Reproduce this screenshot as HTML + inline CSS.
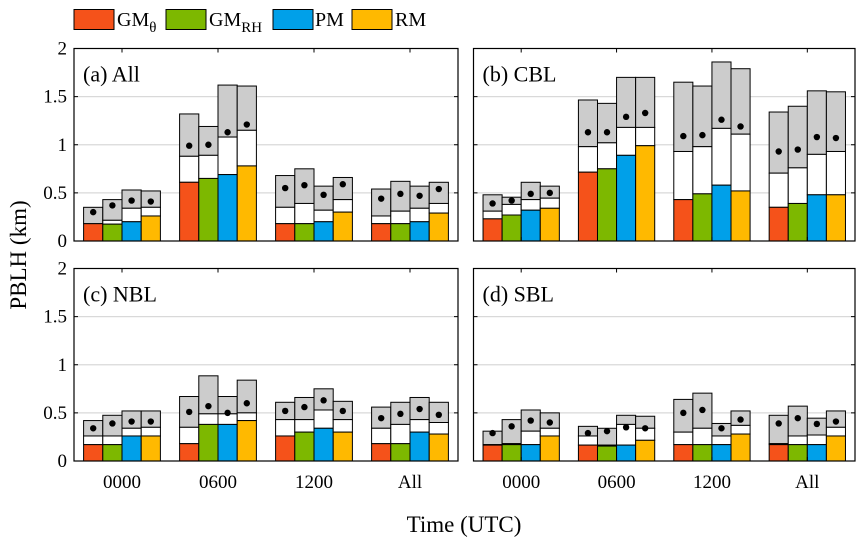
<!DOCTYPE html>
<html><head><meta charset="utf-8"><style>
html,body{margin:0;padding:0;background:#fff}
svg, svg text{font-family:"Liberation Serif","Times New Roman","DejaVu Serif",serif}
</style></head><body>
<svg id="chart" width="865" height="546" viewBox="0 0 865 546" xmlns="http://www.w3.org/2000/svg"></svg>
<script>
const categories = ["0000","0600","1200","All"];
const seriesNames = ["GMθ","GMRH","PM","RM"];
const seriesColors = ["#F5521A","#7DB800","#00A0E9","#FFB900"];
const yTicks = [0,0.5,1,1.5,2];
const yTickLabels = ["0","0.5","1","1.5","2"];
// per panel: [category][series] values
const aLow  = [[0.18,0.175,0.20,0.26],[0.61,0.65,0.69,0.78],[0.18,0.18,0.20,0.30],[0.18,0.18,0.20,0.29]];
const aMid  = [[0.18,0.215,0.34,0.35],[0.88,0.89,1.08,1.15],[0.35,0.39,0.32,0.43],[0.26,0.31,0.34,0.39]];
const aHigh = [[0.35,0.43,0.53,0.52],[1.32,1.19,1.62,1.61],[0.68,0.75,0.57,0.66],[0.54,0.62,0.57,0.61]];
const aDot  = [[0.30,0.37,0.42,0.41],[0.99,1.00,1.13,1.21],[0.55,0.58,0.48,0.59],[0.44,0.49,0.47,0.54]];
const bLow  = [[0.23,0.27,0.32,0.34],[0.715,0.75,0.89,0.99],[0.43,0.49,0.58,0.52],[0.35,0.39,0.48,0.48]];
const bMid  = [[0.31,0.38,0.43,0.445],[0.98,1.02,1.18,1.18],[0.93,0.98,1.17,1.11],[0.705,0.76,0.90,0.93]];
const bHigh = [[0.48,0.455,0.61,0.57],[1.465,1.43,1.70,1.70],[1.65,1.61,1.86,1.79],[1.34,1.40,1.56,1.55]];
const bDot  = [[0.39,0.42,0.49,0.50],[1.13,1.13,1.29,1.33],[1.09,1.10,1.26,1.19],[0.93,0.95,1.08,1.07]];
const cLow  = [[0.17,0.17,0.26,0.26],[0.18,0.38,0.38,0.42],[0.26,0.30,0.34,0.30],[0.18,0.18,0.30,0.28]];
const cMid  = [[0.26,0.26,0.34,0.35],[0.35,0.49,0.49,0.50],[0.43,0.43,0.53,0.43],[0.34,0.38,0.43,0.40]];
const cHigh = [[0.42,0.475,0.52,0.52],[0.67,0.885,0.67,0.84],[0.61,0.66,0.75,0.62],[0.56,0.61,0.66,0.61]];
const cDot  = [[0.34,0.39,0.41,0.41],[0.51,0.57,0.50,0.60],[0.52,0.56,0.63,0.52],[0.445,0.49,0.54,0.48]];
const dLow  = [[0.165,0.17,0.17,0.26],[0.165,0.155,0.165,0.215],[0.17,0.17,0.17,0.28],[0.17,0.17,0.17,0.26]];
const dMid  = [[0.17,0.18,0.31,0.34],[0.26,0.165,0.38,0.34],[0.30,0.34,0.26,0.37],[0.18,0.26,0.27,0.35]];
const dHigh = [[0.31,0.43,0.53,0.50],[0.36,0.34,0.475,0.465],[0.64,0.705,0.39,0.52],[0.475,0.57,0.445,0.52]];
const dDot  = [[0.29,0.36,0.42,0.40],[0.29,0.31,0.35,0.34],[0.50,0.53,0.34,0.43],[0.39,0.445,0.385,0.41]];

const panels = [
 {id:"a",label:"(a) All",x0:74,x1:458,yTop:48.5,yBot:241,low:aLow,mid:aMid,high:aHigh,dot:aDot,left:true},
 {id:"b",label:"(b) CBL",x0:473.5,x1:855,yTop:48.5,yBot:241,low:bLow,mid:bMid,high:bHigh,dot:bDot,left:false},
 {id:"c",label:"(c) NBL",x0:74,x1:458,yTop:268.5,yBot:461,low:cLow,mid:cMid,high:cHigh,dot:cDot,left:true,bottom:true},
 {id:"d",label:"(d) SBL",x0:473.5,x1:855,yTop:268.5,yBot:461,low:dLow,mid:dMid,high:dHigh,dot:dDot,left:false,bottom:true}
];
const NS="http://www.w3.org/2000/svg";
const svg=document.getElementById("chart");
function mk(tag,attrs,parent){const e=document.createElementNS(NS,tag);for(const k in attrs)e.setAttribute(k,attrs[k]);(parent||svg).appendChild(e);return e;}

panels.forEach(p=>{
  const g=mk("g",{});
  
  
  const ys=v=>p.yBot-(v/2)*(p.yBot-p.yTop);
  const step=(p.x1-p.x0)/categories.length;
  const xc=i=>p.x0+step*(i+0.5);
  const bw=step*0.2;
  yTicks.forEach((t,i)=>{
    if(t>0&&t<2){const gl=mk("line",{x1:p.x0,x2:p.x1,y1:ys(t),y2:ys(t),stroke:"#d9d9d9","stroke-width":1.2},g);
      
      }
  });
  categories.forEach((c,ci)=>{
    for(let s=0;s<4;s++){
      const x=xc(ci)-2*bw+s*bw;
      const lo=p.low[ci][s],mi=p.mid[ci][s],hi=p.high[ci][s];
      const r1=mk("rect",{x:x,y:ys(hi),width:bw,height:ys(mi)-ys(hi),fill:"#cccccc",stroke:"#000","stroke-width":1},g);
      
      
      const r2=mk("rect",{x:x,y:ys(mi),width:bw,height:ys(lo)-ys(mi),fill:"#fff",stroke:"#000","stroke-width":1},g);
      
      
      const r3=mk("rect",{x:x,y:ys(lo),width:bw,height:ys(0)-ys(lo),fill:seriesColors[s],stroke:"#000","stroke-width":1},g);
      
      
      const d=mk("circle",{cx:x+bw/2,cy:ys(p.dot[ci][s]),r:3.2,fill:"#000"},g);
      
      
    }
    mk("line",{x1:xc(ci),x2:xc(ci),y1:p.yTop,y2:p.yTop+4,stroke:"#000","stroke-width":1},g);
    mk("line",{x1:xc(ci),x2:xc(ci),y1:p.yBot,y2:p.yBot-4,stroke:"#000","stroke-width":1},g);
    if(p.bottom){const t=mk("text",{x:xc(ci),y:488,"text-anchor":"middle","font-size":19},g);t.textContent=c;
      
      }
  });
  yTicks.forEach((t,i)=>{
    mk("line",{x1:p.x0,x2:p.x0+4,y1:ys(t),y2:ys(t),stroke:"#000"},g);
    mk("line",{x1:p.x1,x2:p.x1-4,y1:ys(t),y2:ys(t),stroke:"#000"},g);
    if(p.left){const tl=mk("text",{x:67,y:ys(t)+6,"text-anchor":"end","font-size":19},g);tl.textContent=yTickLabels[i];
      
      }
  });
  const fr=mk("rect",{x:p.x0,y:p.yTop,width:p.x1-p.x0,height:p.yBot-p.yTop,fill:"none",stroke:"#000","stroke-width":1.2},g);
  
  
  const lb=mk("text",{x:p.x0+9,y:p.yTop+33,"font-size":22},g);lb.textContent=p.label;
  
  
});

// legend
const legX=[74,166,273,352];
const leg=mk("g",{});


seriesNames.forEach((n,i)=>{
  const r=mk("rect",{x:legX[i],y:9.5,width:40,height:20,fill:seriesColors[i],stroke:"#000","stroke-width":1},leg);
  
  
});
const l1=mk("text",{x:117,y:26,"font-size":20},leg);l1.innerHTML='GM<tspan font-size="15" dy="6">θ</tspan>';


const l2=mk("text",{x:209,y:26,"font-size":20},leg);l2.innerHTML='GM<tspan font-size="15" dy="6">RH</tspan>';


const l3=mk("text",{x:315,y:26,"font-size":20},leg);l3.textContent='PM';


const l4=mk("text",{x:395,y:26,"font-size":20},leg);l4.textContent='RM';



const xt=mk("text",{x:464,y:532,"text-anchor":"middle","font-size":23});xt.textContent="Time (UTC)";


const yt=mk("text",{x:0,y:0,"text-anchor":"middle","font-size":23,transform:"translate(26,255) rotate(-90)"});yt.textContent="PBLH (km)";


</script>
</body></html>
